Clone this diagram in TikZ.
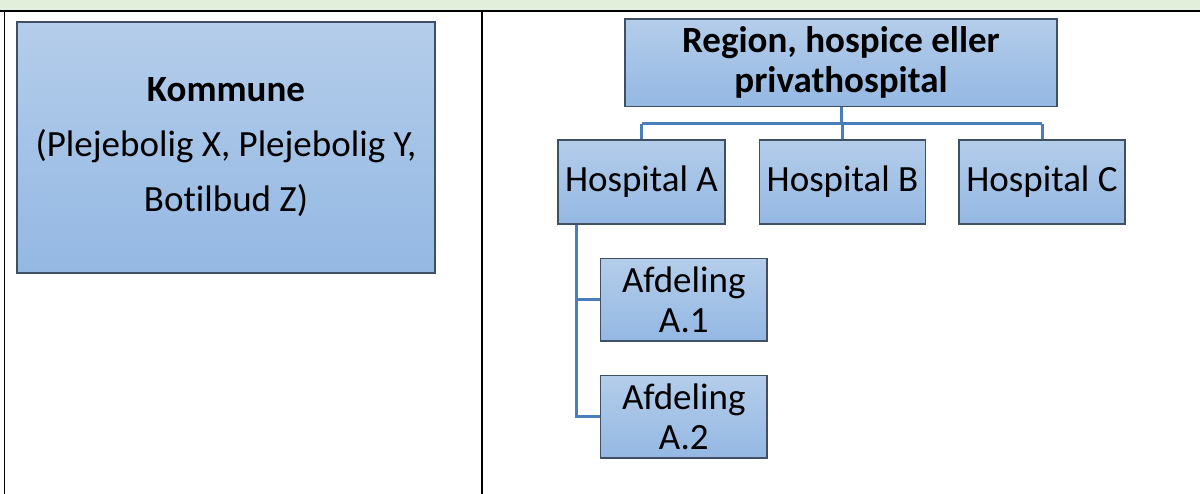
\documentclass[tikz,border=0pt]{standalone}
\usepackage{fontspec}
\setmainfont[Ligatures=NoCommon]{Carlito}
\usetikzlibrary{calc}

\definecolor{headgreen}{RGB}{226,239,218}
\definecolor{boxtop}{RGB}{180,205,234}
\definecolor{boxbot}{RGB}{148,184,227}
\definecolor{boxedge}{RGB}{64,80,100}
\definecolor{linkblue}{RGB}{74,126,187}

\tikzset{
  orgbox/.style={draw=boxedge, line width=1.2pt, top color=boxtop, bottom color=boxbot,
    align=center, inner sep=0pt, font=\fontsize{37}{40}\selectfont},
  link/.style={draw=linkblue, line width=3pt},
  rule/.style={draw=black, line width=1.5pt}
}

\begin{document}
\begin{tikzpicture}[x=1pt,y=-1pt]
\useasboundingbox (0,0) rectangle (1200,494);
% Table frame with the green header row
\fill[headgreen] (0,0) rectangle (1200,11);
\draw[rule] (0,11) -- (1200,11);
\draw[rule] (4.5,11) -- (4.5,494);
\draw[rule] (482,11) -- (482,494);
% Left cell
\node[orgbox, minimum width=418pt, minimum height=251pt,
  font=\fontsize{37}{55}\selectfont] (kommune) at (226,147.5)
  {\textbf{Kommune}\\(Plejebolig X, Plejebolig Y,\\Botilbud Z)};
% Right cell: the top box
\node[orgbox, minimum width=432pt, minimum height=87.5pt] (region) at (841,62.75)
  {\textbf{Region, hospice eller}\\\textbf{privathospital}};
% Hospitals
\node[orgbox, minimum width=167pt, minimum height=84pt] (hospA) at (641.5,182) {Hospital A};
\node[orgbox, minimum width=166pt, minimum height=84pt] (hospB) at (842.5,182) {Hospital B};
\node[orgbox, minimum width=166pt, minimum height=84pt] (hospC) at (1042,182) {Hospital C};
% Departments under hospital A
\node[orgbox, minimum width=166.5pt, minimum height=82.5pt] (afd1) at (683.75,299.75) {Afdeling\\A.1};
\node[orgbox, minimum width=166.5pt, minimum height=82.5pt] (afd2) at (683.75,416.75) {Afdeling\\A.2};
% Connectors
\coordinate (bus) at (0,124);
\coordinate (spine) at (576,0);
\draw[link] (region.south) -- (region.south |- bus);
\draw[link] (hospA.north |- bus) -- (hospC.north |- bus);
\foreach \h in {hospA,hospB,hospC}
  \draw[link] (\h.north |- bus) -- (\h.north);
\draw[link] (spine |- hospA.south) |- (afd2.west);
\draw[link] (spine |- afd1.west) -- (afd1.west);
\end{tikzpicture}
\end{document}
